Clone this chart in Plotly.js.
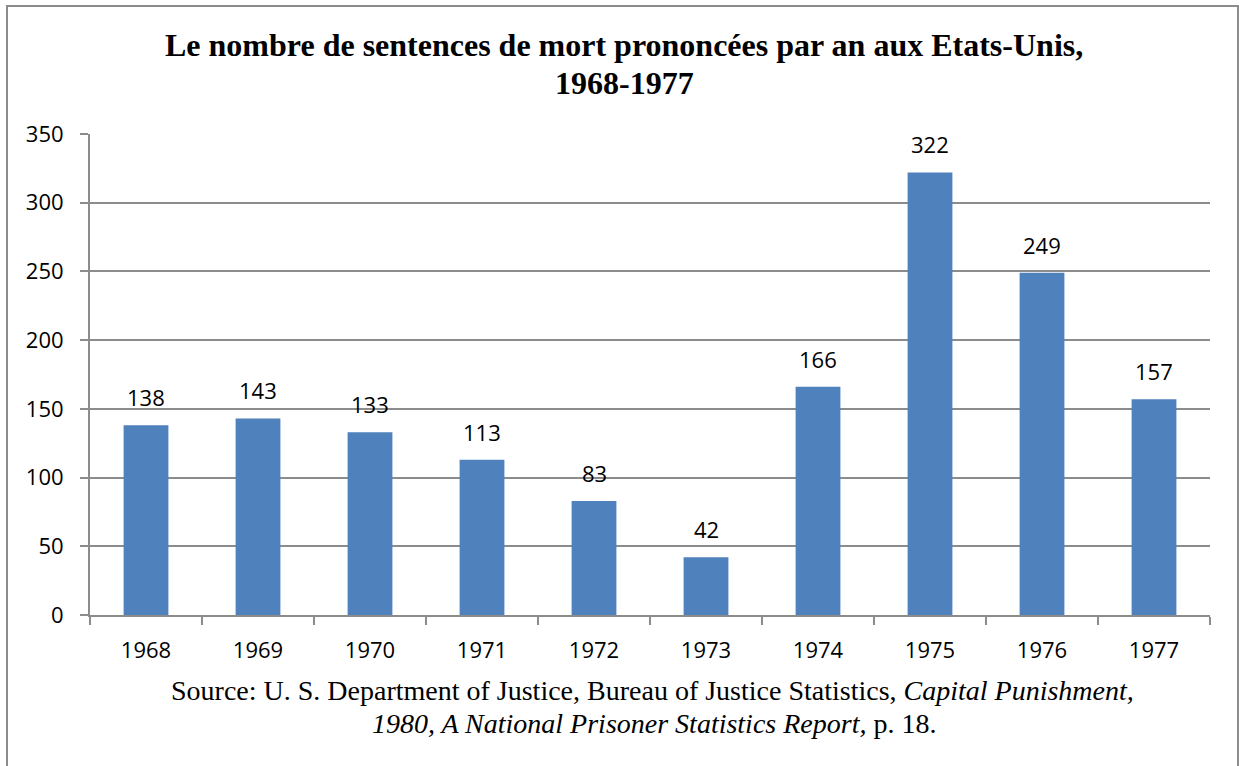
<!DOCTYPE html>
<html>
<head>
<meta charset="utf-8">
<script src="https://cdn.plot.ly/plotly-3.0.1.min.js"></script>
<style>
html,body{margin:0;padding:0;background:#fff;overflow:hidden;}
#frame{position:absolute;left:6px;top:5px;width:1233px;height:780px;border:2px solid #8c8c8c;box-sizing:border-box;}
#chart{position:absolute;left:0;top:0;width:1239px;height:766px;}
</style>
</head>
<body>
<div id="frame"></div>
<div id="chart"></div>
<script>
const years = ['1968','1969','1970','1971','1972','1973','1974','1975','1976','1977'];
const sentences = [138,143,133,113,83,42,166,322,249,157];
const yTicks = [0,50,100,150,200,250,300,350];
const titleLines = ['Le nombre de sentences de mort prononcées par an aux Etats-Unis,', '1968-1977'];
const sourceLines = [
  'Source: U. S. Department of Justice, Bureau of Justice Statistics, <i>Capital Punishment,</i>',
  '<i>1980, A National Prisoner Statistics Report,</i> p. 18.'
];

const trace = {
  type:'bar', x: years, y: sentences,
  marker:{color:'#4f81bd'},
  hoverinfo:'x+y'
};

const anns = years.map((yr,i)=>({
  x: i, y: sentences[i], xref:'x', yref:'y',
  text: String(sentences[i]), showarrow:false,
  yanchor:'bottom', yshift:11,
  font:{family:'Open Sans, Noto Sans, sans-serif', size:22, color:'#000'}
}));

const titleFont = {family:'Liberation Serif, serif', size:32, color:'#000'};
anns.push({xref:'paper', yref:'paper', x:0.477, y:1.185, yanchor:'middle', showarrow:false,
  text:'<b>'+titleLines[0]+'</b>', font:titleFont});
anns.push({xref:'paper', yref:'paper', x:0.477, y:1.106, yanchor:'middle', showarrow:false,
  text:'<b>'+titleLines[1]+'</b>', font:titleFont});

const srcFont = {family:'Liberation Serif, serif', size:28, color:'#000'};
anns.push({xref:'paper', yref:'paper', x:0.502, y:-0.158, yanchor:'middle', showarrow:false,
  text:sourceLines[0], font:srcFont});
anns.push({xref:'paper', yref:'paper', x:0.504, y:-0.226, yanchor:'middle', showarrow:false,
  text:sourceLines[1], font:srcFont});

const layout = {
  width:1239, height:766,
  margin:{l:90, r:29, t:134, b:151},
  paper_bgcolor:'rgba(0,0,0,0)', plot_bgcolor:'rgba(0,0,0,0)',
  bargap:0.6,
  showlegend:false,
  xaxis:{
    type:'category', range:[-0.5, 9.5], fixedrange:true,
    tickson:'boundaries', ticks:'outside', ticklen:8, tickcolor:'#8c8c8c', tickwidth:2,
    showline:true, linecolor:'#8c8c8c', linewidth:2,
    showgrid:false, tickangle:0,
    tickfont:{family:'Open Sans, Noto Sans, sans-serif', size:22, color:'#000'},
    ticklabelstandoff:15
  },
  yaxis:{
    range:[0,350], tickvals:yTicks, ticktext:yTicks.map(String), fixedrange:true,
    ticks:'outside', ticklen:8, tickcolor:'#8c8c8c', tickwidth:2,
    showline:true, linecolor:'#8c8c8c', linewidth:2,
    showgrid:true, gridcolor:'#8c8c8c', gridwidth:2,
    zeroline:false,
    tickfont:{family:'Open Sans, Noto Sans, sans-serif', size:22, color:'#000'},
    ticklabelstandoff:12
  },
  annotations: anns
};

Plotly.newPlot('chart',[trace],layout,{displayModeBar:false});
</script>
</body>
</html>
